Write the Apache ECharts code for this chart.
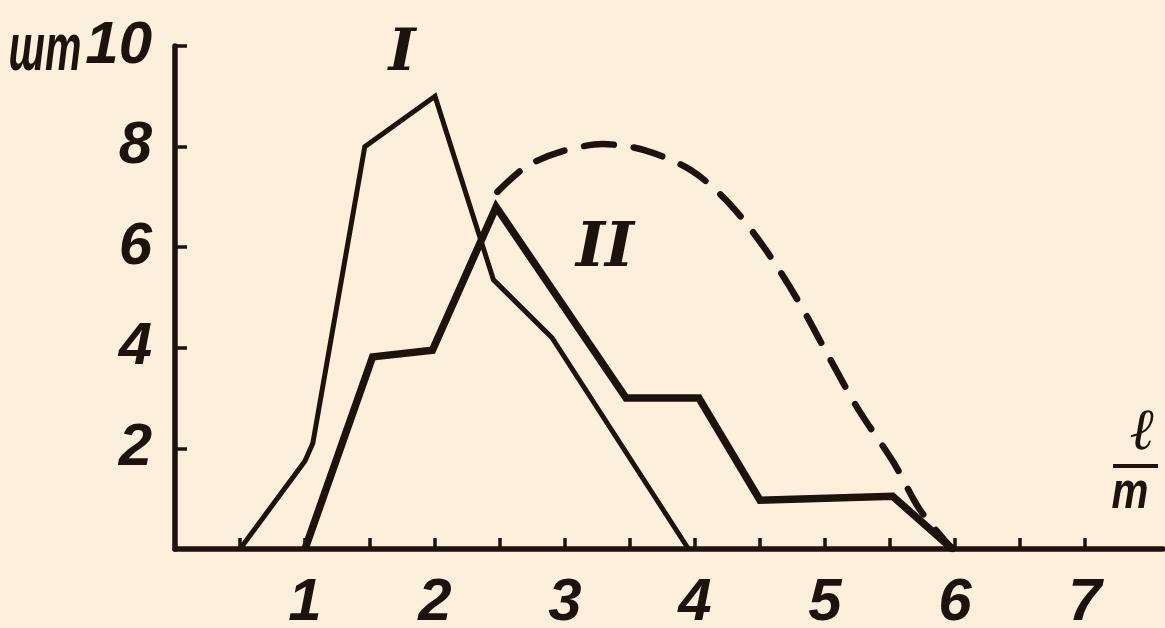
<!DOCTYPE html>
<html>
<head>
<meta charset="utf-8">
<script src="https://cdn.jsdelivr.net/npm/echarts@6/dist/echarts.min.js"></script>
<style>
html,body{margin:0;padding:0;background:#fcefdc;}
#chart{width:1165px;height:628px;}
</style>
</head>
<body>
<div id="chart"></div>
<script>
// Curve I (thin solid)
const curveIx = [0.5, 1.0, 1.06, 1.46, 2.0, 2.45, 2.9, 3.95];
const curveIy = [0, 1.75, 2.1, 8.0, 9.0, 5.35, 4.2, 0];
// Curve II (thick solid)
const curveIIx = [1.0, 1.52, 1.98, 2.47, 3.47, 4.03, 4.5, 5.52, 5.98];
const curveIIy = [0, 3.82, 3.95, 6.8, 3.0, 3.0, 0.97, 1.05, 0];
// Dashed envelope
const dashX = [2.48, 2.7, 2.97, 3.29, 3.61, 3.97, 4.26, 4.53, 4.79, 5.03, 5.26, 5.53, 5.73, 5.98];
const dashY = [7.1, 7.6, 7.9, 8.05, 7.93, 7.53, 6.88, 6.0, 4.95, 3.82, 2.76, 1.71, 0.78, 0];
// Axis ticks / labels
const xTickValues = [0.5, 1, 1.5, 2, 2.5, 3, 3.5, 4, 4.5, 5, 5.5, 6, 6.5, 7];
const xLabelValues = [1, 2, 3, 4, 5, 6, 7];
const yTickValues = [2, 4, 6, 8, 10];
const yUnit = 'шт';
const xUnitTop = 'ℓ';
const xUnitBottom = 'm';
const curveNames = ['I', 'II'];

const ink = '#1d120c';
const digitFont = "'Liberation Sans','DejaVu Sans',sans-serif";
const serifFont = "'DejaVu Serif','Liberation Serif',serif";

const zip = (xs, ys) => xs.map((x, i) => [x, ys[i]]);

const chart = echarts.init(document.getElementById('chart'), null, {renderer: 'canvas'});
chart.setOption({
  backgroundColor: '#fcefdc',
  animation: false,
  grid: {left: 175, top: 46, right: 2, bottom: 79, containLabel: false, outerBoundsMode: 'none'},
  xAxis: {
    type: 'value', min: 0, max: 7.6, interval: 0.5,
    splitLine: {show: false},
    axisLine: {show: true, lineStyle: {color: ink, width: 5.5}},
    axisTick: {show: true, inside: true, length: 11, customValues: xTickValues,
      lineStyle: {color: ink, width: 3.5}},
    axisLabel: {show: true, customValues: xLabelValues, margin: 24,
      color: ink, fontFamily: digitFont, fontWeight: 'bold', fontStyle: 'italic', fontSize: 60,
      formatter: v => String(v)}
  },
  yAxis: {
    type: 'value', min: 0, max: 10, interval: 2,
    splitLine: {show: false},
    axisLine: {show: true, lineStyle: {color: ink, width: 5.5}},
    axisTick: {show: true, inside: true, length: 12, customValues: yTickValues,
      lineStyle: {color: ink, width: 3.5}},
    axisLabel: {show: true, customValues: yTickValues, margin: 23,
      color: ink, fontFamily: digitFont, fontWeight: 'bold', fontStyle: 'italic', fontSize: 60,
      formatter: v => String(v)}
  },
  series: [
    {name: curveNames[0], type: 'line', data: zip(curveIx, curveIy), symbol: 'none',
      lineStyle: {color: ink, width: 5, join: 'miter'}, z: 3},
    {name: curveNames[1], type: 'line', data: zip(curveIIx, curveIIy), symbol: 'none',
      lineStyle: {color: ink, width: 7.5, join: 'miter'}, z: 3},
    {name: 'envelope', type: 'line', data: zip(dashX, dashY), symbol: 'none', smooth: 0.3,
      lineStyle: {color: ink, width: 6.5, type: [30, 20], cap: 'round'}, z: 2}
  ],
  graphic: [
    {type: 'text', x: 45, y: 52, scaleX: 0.62, style: {text: yUnit, fill: ink, align: 'center', verticalAlign: 'middle', font: "italic bold 66px " + digitFont}},
    {type: 'text', x: 402, y: 55, style: {text: curveNames[0], fill: ink, align: 'center', verticalAlign: 'middle', font: "italic bold 58px " + serifFont}},
    {type: 'text', x: 605, y: 250, style: {text: curveNames[1], fill: ink, align: 'center', verticalAlign: 'middle', font: "italic bold 62px " + serifFont}},
    {type: 'text', x: 1143, y: 434, style: {text: xUnitTop, fill: ink, align: 'center', verticalAlign: 'middle', font: "italic bold 58px " + serifFont}},
    {type: 'line', shape: {x1: 1113, y1: 466, x2: 1158, y2: 466}, style: {stroke: ink, lineWidth: 4}},
    {type: 'text', x: 1130, y: 494, scaleX: 0.8, style: {text: xUnitBottom, fill: ink, align: 'center', verticalAlign: 'middle', font: "italic bold 52px " + digitFont}}
  ]
});
</script>
</body>
</html>
